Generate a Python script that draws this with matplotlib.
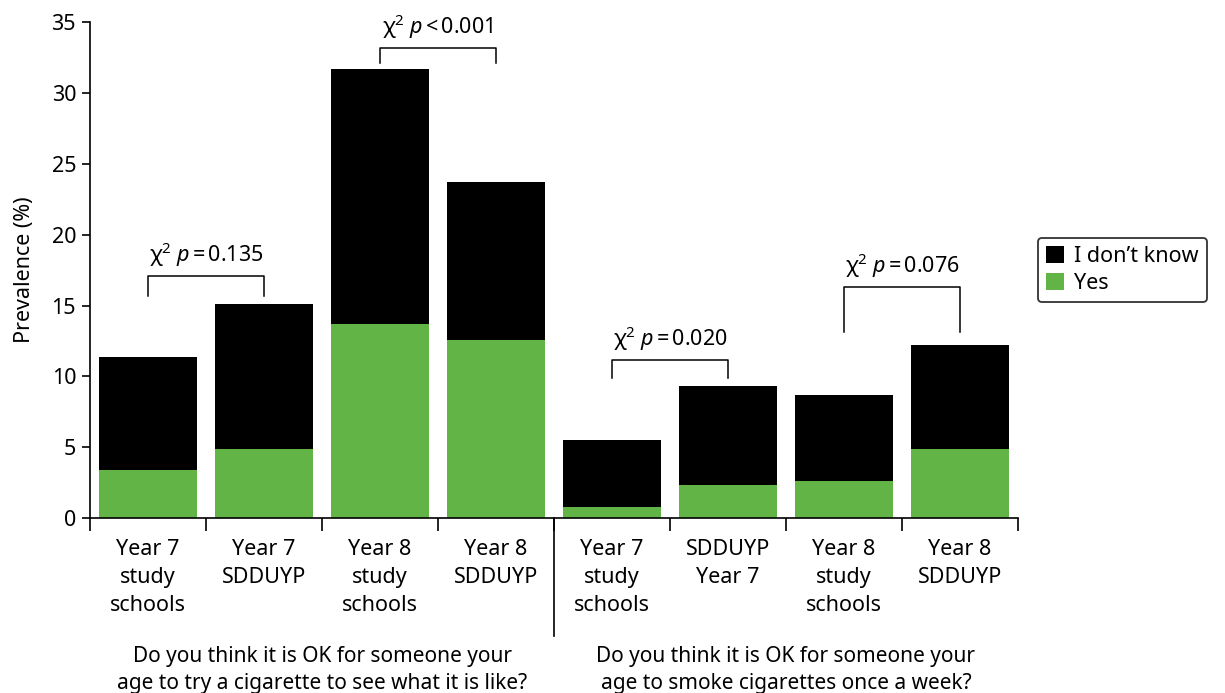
import matplotlib
matplotlib.use("Agg")
import matplotlib.pyplot as plt
import numpy as np

# données
categories = ["Year 7\nstudy\nschools", "Year 7\nSDDUYP", "Year 8\nstudy\nschools", "Year 8\nSDDUYP",
              "Year 7\nstudy\nschools", "SDDUYP\nYear 7", "Year 8\nstudy\nschools", "Year 8\nSDDUYP"]
yes_vals = [3.4, 4.9, 13.7, 12.6, 0.8, 2.3, 2.6, 4.9]
total_vals = [11.4, 15.1, 31.7, 23.7, 5.5, 9.3, 8.7, 12.2]
dont_know_vals = [t - y for t, y in zip(total_vals, yes_vals)]
questions = ["Do you think it is OK for someone your\nage to try a cigarette to see what it is like?",
             "Do you think it is OK for someone your\nage to smoke cigarettes once a week?"]
# comparaisons : (barre gauche, barre droite, hauteur du crochet, bas des pattes, signe, p)
pairs = [(0, 1, 17.1, 15.7, "=", "0.135"),
         (2, 3, 33.2, 32.1, "<", "0.001"),
         (4, 5, 11.15, 9.9, "=", "0.020"),
         (6, 7, 16.3, 13.1, "=", "0.076")]

plt.rcParams["font.family"] = ["Noto Sans", "DejaVu Sans"]
plt.rcParams["mathtext.fontset"] = "custom"
plt.rcParams["mathtext.rm"] = "Noto Sans"
plt.rcParams["mathtext.it"] = "Noto Sans:italic"

FS = 15.5
green = "#63b446"
fig = plt.figure(figsize=(12.25, 6.93), dpi=100)
ax = fig.add_axes([0.0735, 0.2525, 0.7575, 0.7155])

x = np.arange(len(categories)) + 0.5
ax.bar(x, yes_vals, width=0.84, color=green, label="Yes")
ax.bar(x, dont_know_vals, width=0.84, bottom=yes_vals, color="black", label="I don\u2019t know")

ax.set_xlim(0, 8)
ax.set_ylim(0, 35)
ax.set_yticks(np.arange(0, 36, 5))
ax.set_xticks(np.arange(0, 9))
ax.set_xticklabels([])
ax.tick_params(axis="y", labelsize=FS, length=6, width=1.2, direction="out", pad=4)
ax.tick_params(axis="x", length=9, width=1.2, direction="out")
ax.spines["top"].set_visible(False)
ax.spines["right"].set_visible(False)
for s in ["left", "bottom"]:
    ax.spines[s].set_linewidth(1.2)
ax.set_ylabel("Prevalence (%)", fontsize=FS, labelpad=12)

for xi, lab in zip(x, categories):
    ax.text(xi, -1.45, lab, ha="center", va="top", fontsize=FS, linespacing=1.45)

# séparateur entre les deux questions
ax.plot([4, 4], [0, -8.3], color="black", lw=1.2, clip_on=False)
ax.text(2, -9.05, questions[0], ha="center", va="top", fontsize=15, linespacing=1.36)
ax.text(6, -9.05, questions[1], ha="center", va="top", fontsize=15, linespacing=1.36)

for i, j, top, leg, op, pv in pairs:
    ax.plot([x[i], x[i], x[j], x[j]], [leg, top, top, leg], color="black", lw=1.1)
    ax.text((x[i] + x[j]) / 2, top + 0.5, "\u03c7$^2$ $\\mathit{p}\\,$" + op + "$\\,$" + pv,
            ha="center", va="bottom", fontsize=FS)

handles, labels = ax.get_legend_handles_labels()
leg = fig.legend(handles[::-1], labels[::-1], loc="upper left", bbox_to_anchor=(0.847, 0.657),
                 fontsize=FS, frameon=True, fancybox=True, edgecolor="black",
                 handlelength=0.85, handleheight=0.85, handletextpad=0.45, labelspacing=0.25,
                 borderpad=0.4, borderaxespad=0)
leg.get_frame().set_linewidth(1.3)

fig.savefig("out.png", dpi=100)
